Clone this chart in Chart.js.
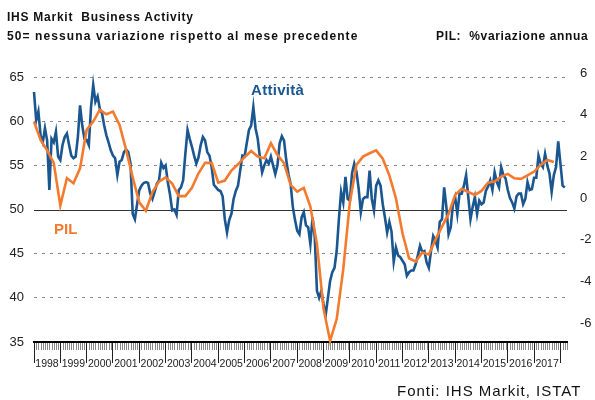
<!DOCTYPE html>
<html>
<head>
<meta charset="utf-8">
<script src="https://cdn.jsdelivr.net/npm/chart.js@4.4.0/dist/chart.umd.min.js"></script>
<style>
  body { margin: 0; background: #fff; }
  #box { position: relative; width: 595px; height: 400px; font-family: "Liberation Sans", Arial, sans-serif; }
  #box canvas { position: absolute; left: 0; top: 0; }
  #box .txt { position: absolute; white-space: pre; line-height: 1; color: #111; }
</style>
</head>
<body>
<div id="box">
  <canvas id="chartPmi" width="595" height="400"></canvas>
  <div class="txt" style="left:7px;top:11px;font-size:12px;font-weight:bold;letter-spacing:0.75px">IHS Markit  Business Activity</div>
  <div class="txt" style="left:7px;top:30px;font-size:12px;font-weight:bold;letter-spacing:1.1px">50= nessuna variazione rispetto al mese precedente</div>
  <div class="txt" style="left:436px;top:30px;font-size:12px;font-weight:bold;letter-spacing:0.65px">PIL:  %variazione annua</div>
  <div class="txt" style="left:251px;top:82px;font-size:15px;font-weight:bold;letter-spacing:0.3px;color:#1a5690">Attività</div>
  <div class="txt" style="left:54px;top:221px;font-size:15px;font-weight:bold;color:#f47a2e">PIL</div>
  <div class="txt" style="left:397px;top:383px;font-size:15px;letter-spacing:1px">Fonti: IHS Markit, ISTAT</div>
</div>
<script>
// anni sull'asse x (dati mensili da gen 1998 a mar 2018)
const anni = ['1998', '1999', '2000', '2001', '2002', '2003', '2004', '2005', '2006', '2007',
  '2008', '2009', '2010', '2011', '2012', '2013', '2014', '2015', '2016', '2017'];

// IHS Markit Business Activity, mensile
const attivita = [
  63.3, 60.1, 61.1, 58.4, 57.6, 59.2, 57.8, 52.2, 58.0, 57.6, 58.8, 56.0,
  55.6, 57.3, 58.2, 58.6, 57.3, 56.1, 55.8, 56.0, 58.2, 61.8, 59.5, 58.0,
  57.9, 57.3, 61.6, 64.1, 62.2, 62.8, 61.4, 60.9, 59.5, 58.4, 57.6, 56.7,
  56.1, 55.8, 53.9, 55.4, 55.6, 56.5, 56.8, 56.5, 55.2, 49.5, 48.9, 50.6,
  52.2, 52.7, 53.0, 53.1, 53.0, 51.8, 51.2, 52.0, 52.9, 53.3, 55.3, 54.7,
  55.0, 53.1, 51.7, 49.9, 50.0, 49.4, 52.2, 52.5, 53.3, 56.3, 59.0, 58.0,
  57.1, 56.1, 55.2, 55.9, 57.3, 58.2, 57.8, 56.5, 56.1, 54.8, 52.8, 52.5,
  52.2, 52.1, 51.5, 48.9, 47.4, 48.8, 49.5, 51.2, 52.1, 52.7, 54.4, 56.1,
  56.0, 57.5, 59.0, 59.5, 61.6, 59.2, 58.0, 55.9, 54.2, 55.0, 55.6, 55.2,
  56.0, 55.0, 54.0, 55.0, 57.5, 58.3, 57.8, 55.6, 54.0, 52.9, 50.3, 48.8,
  47.6, 47.2, 49.1, 49.7, 48.2, 48.0, 46.1, 49.1, 46.9, 40.8, 40.0, 40.8,
  39.3, 38.1, 40.0, 41.9, 42.9, 43.4, 45.3, 48.9, 52.0, 50.8, 53.7, 51.2,
  51.0, 54.1, 55.2, 54.3, 52.4, 49.7, 51.2, 51.4, 51.4, 54.4, 51.2, 49.9,
  52.7, 53.3, 52.7, 50.6, 49.1, 47.4, 48.6, 47.5, 44.1, 45.7, 44.8, 44.6,
  44.2, 43.8, 42.5, 42.9, 43.1, 43.1, 43.8, 44.8, 45.9, 45.2, 45.3, 44.0,
  43.4, 45.3, 47.0, 46.5, 45.7, 48.6, 48.9, 52.5, 50.3, 47.2, 48.0, 50.6,
  51.4, 49.5, 51.8, 51.8, 52.7, 53.9, 51.4, 48.9, 50.3, 51.4, 49.5, 51.0,
  50.6, 50.8, 52.1, 52.6, 53.3, 52.2, 54.2, 53.1, 52.5, 54.8, 53.9, 53.5,
  52.2, 51.3, 50.8, 50.1, 51.5, 51.8, 51.8, 50.6, 51.2, 53.1, 52.2, 52.3,
  53.6, 53.6, 56.1, 55.2, 54.8, 56.3, 55.0, 54.1, 52.0, 53.9, 54.8, 57.7,
  55.2, 52.7, 52.5
];

// PIL, % variazione annua, trimestrale (1998 T1 - 2017 T4)
const pil = [
  3.68, 2.8, 2.3, 1.7, -0.35, 0.96, 0.72, 1.44,
  3.28, 3.68, 4.24, 4.03, 4.16, 3.52, 2.32, 1.0,
  -0.2, -0.6, 0.3, 0.8, 1.0, 0.7, 0.1, 0.1,
  0.5, 1.2, 1.7, 1.7, 0.75, 0.85, 1.33, 1.63,
  1.97, 2.27, 2.0, 1.92, 2.64, 2.08, 1.68, 0.64,
  0.32, 0.5, -0.4, -2.2, -5.3, -6.85, -5.8, -3.4,
  -0.2, 1.6, 2.0, 2.16, 2.3, 1.9, 1.1, 0.0,
  -1.68, -2.88, -3.04, -2.6, -2.7, -2.0, -1.36, -0.75,
  0.16, 0.45, 0.3, 0.16, 0.35, 0.75, 0.8, 1.04,
  1.17, 0.96, 0.93, 1.1, 1.28, 1.6, 1.84, 1.74
];

const tickAttivita = [35, 40, 45, 50, 55, 60, 65];
const tickPil = [-6, -4, -2, 0, 2, 4, 6];

const puntiAttivita = attivita.map((v, i) => ({ x: i, y: v }));
const puntiPil = pil.map((v, i) => ({ x: i * 3, y: v }));

//linea dei 50 e tacche mensili sull'asse x
const extraLines = {
  id: 'extraLines',
  beforeDatasetsDraw(chart) {
    const { ctx, chartArea, scales } = chart;
    const y50 = Math.round(scales.y.getPixelForValue(50)) + 0.5;
    ctx.save();
    ctx.strokeStyle = '#333';
    ctx.lineWidth = 1;
    ctx.beginPath();
    ctx.moveTo(chartArea.left, y50);
    ctx.lineTo(chartArea.right, y50);
    ctx.stroke();
    ctx.restore();
  },
  afterDraw(chart) {
    const { ctx, chartArea, scales } = chart;
    ctx.save();
    ctx.strokeStyle = '#888';
    ctx.lineWidth = 1;
    ctx.beginPath();
    for (let m = 1; m <= 243; m++) {
      if (m % 12 === 0) continue;
      const x = Math.round(scales.x.getPixelForValue(m)) + 0.5;
      ctx.moveTo(x, chartArea.bottom + 1);
      ctx.lineTo(x, chartArea.bottom + 8);
    }
    ctx.stroke();
    ctx.restore();
  }
};

const ctx = document.getElementById('chartPmi');
const chartPmi = new Chart(ctx, {
  type: 'line',
  data: {
    datasets: [{
      label: 'PIL',
      data: puntiPil,
      yAxisID: 'y1',
      borderColor: '#f47a2e',
      borderWidth: 2.6,
      pointRadius: 0,
      clip: false
    }, {
      label: 'Attività',
      data: puntiAttivita,
      yAxisID: 'y',
      borderColor: '#1a5690',
      borderWidth: 2.6,
      pointRadius: 0,
      clip: false
    }]
  },
  options: {
    responsive: false,
    animation: false,
    devicePixelRatio: 1,
    layout: { padding: { top: 77, left: 0, right: 0, bottom: 0 } },
    plugins: {
      legend: { display: false },
      tooltip: { enabled: false }
    },
    scales: {
      x: {
        type: 'linear',
        min: 0,
        max: 243,
        afterBuildTicks: (scale) => {
          scale.ticks = anni.map((a, i) => ({ value: i * 12 })).concat([{ value: 240 }]);
        },
        afterFit: (scale) => { scale.height = 58; },
        ticks: {
          autoSkip: false,
          maxRotation: 0,
          labelOffset: 13,
          padding: -5,
          color: '#222',
          font: { family: 'Liberation Sans', size: 10.5 },
          callback: (value) => anni[value / 12] || ''
        },
        grid: {
          drawOnChartArea: false,
          tickLength: 21,
          tickColor: '#222',
          tickWidth: 1
        },
        border: { color: '#000', width: 2 }
      },
      y: {
        position: 'left',
        min: 35,
        max: 65,
        afterBuildTicks: (scale) => {
          scale.ticks = tickAttivita.map(v => ({ value: v }));
        },
        afterFit: (scale) => { scale.width = 34; },
        ticks: {
          padding: 10,
          color: '#222',
          font: { family: 'Liberation Sans', size: 13 }
        },
        grid: {
          drawTicks: false,
          color: (c) => (c.tick && (c.tick.value === 50 || c.tick.value === 35)) ? 'rgba(0,0,0,0)' : '#8c8c8c'
        },
        border: { display: false, dash: [3, 5] }
      },
      y1: {
        position: 'right',
        min: -6.9,
        max: 5.82,
        afterBuildTicks: (scale) => {
          scale.ticks = tickPil.map(v => ({ value: v }));
        },
        afterFit: (scale) => { scale.width = 28; },
        ticks: {
          padding: 13,
          color: '#222',
          font: { family: 'Liberation Sans', size: 13 }
        },
        grid: { display: false, drawTicks: false },
        border: { display: false }
      }
    }
  },
  plugins: [extraLines]
});
</script>
</body>
</html>
